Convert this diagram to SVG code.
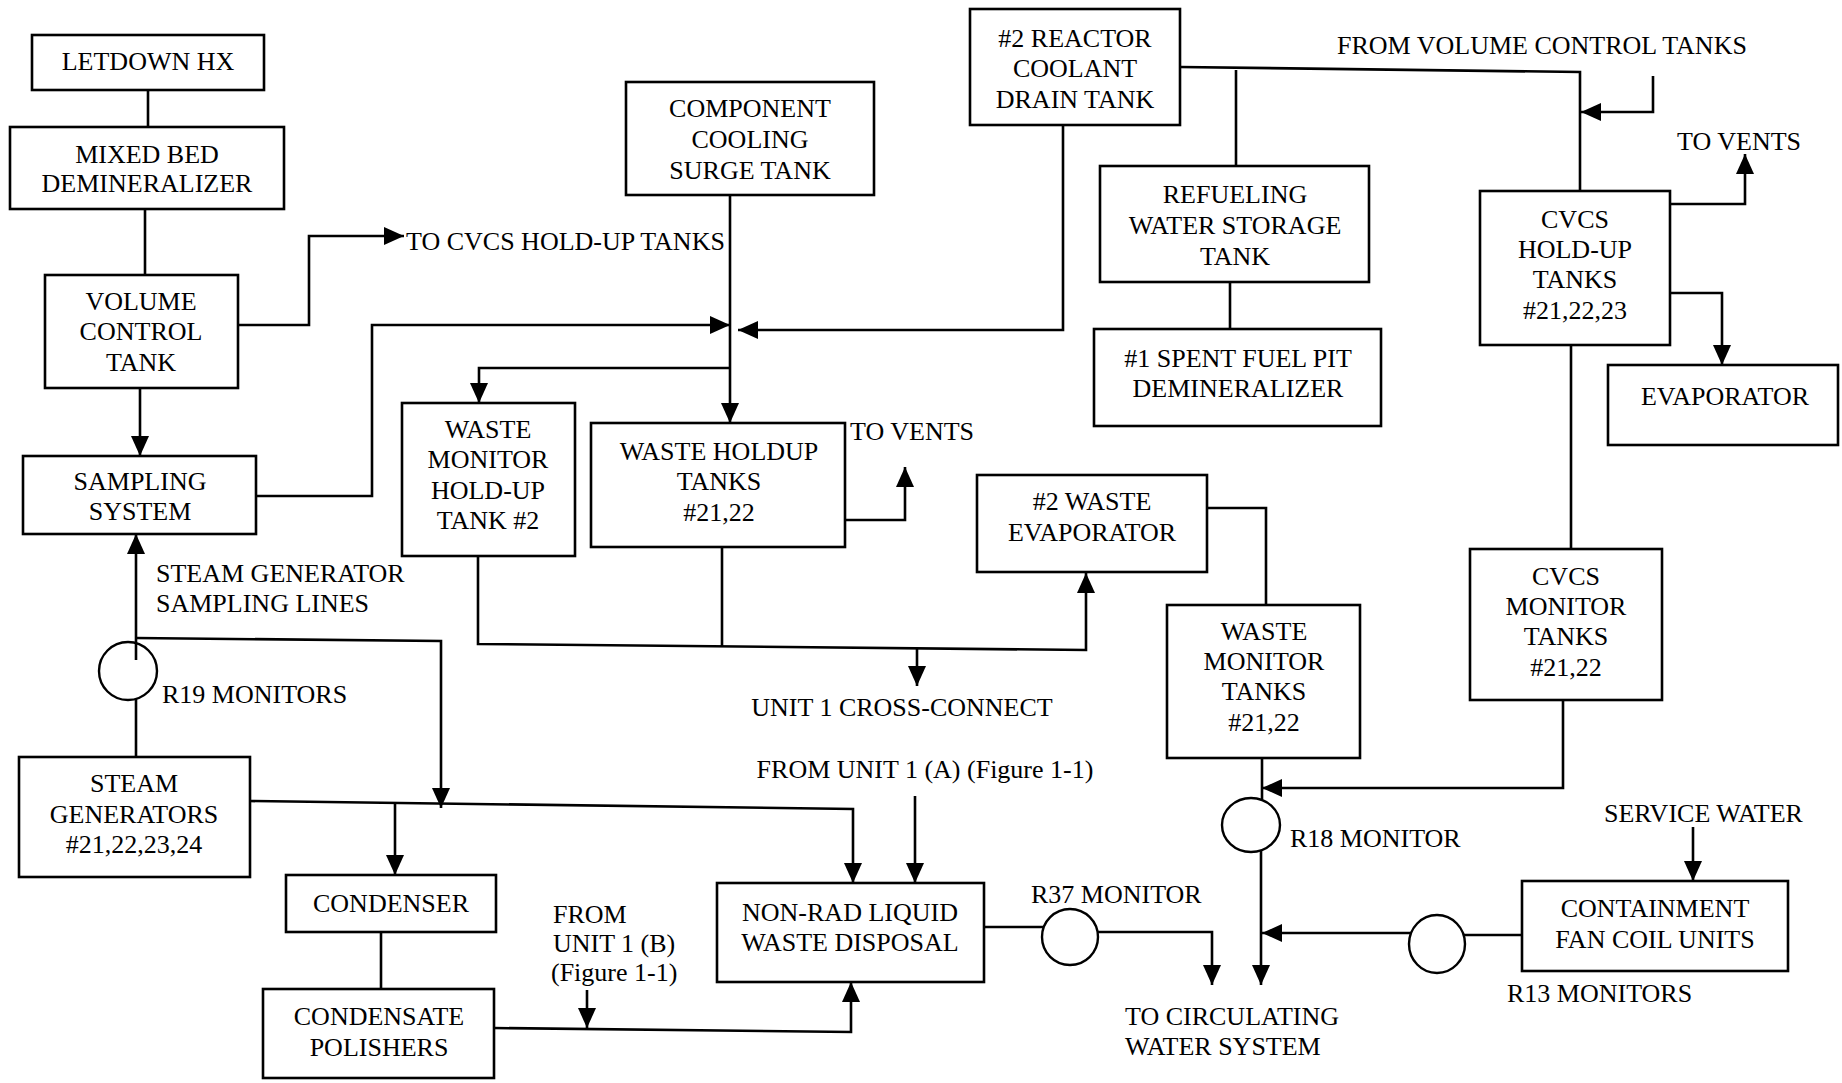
<svg xmlns="http://www.w3.org/2000/svg" width="1842" height="1083" viewBox="0 0 1842 1083">
<style>
.box{fill:none;stroke:#000;stroke-width:2.6}
.ln{fill:none;stroke:#000;stroke-width:2.6}
.ar{marker-end:url(#ah)}
.mon{fill:none;stroke:#000;stroke-width:2.4}
text{font-family:"Liberation Serif","Times New Roman",serif;font-size:26px;fill:#000}
.c{text-anchor:middle}
</style>
<defs>
<marker id="ah" markerUnits="userSpaceOnUse" markerWidth="20" markerHeight="18" viewBox="0 0 20 18" refX="20" refY="9" orient="auto">
<path d="M0,0 L20,9 L0,18 Z" fill="#000"/>
</marker>
</defs>
<rect width="1842" height="1083" fill="#fff"/>

<g id="connectors">
<path class="ln" d="M148,90 V127"/>
<path class="ln" d="M145,209 V275"/>
<path class="ln ar" d="M140,388 V456"/>
<path class="ln ar" d="M238,325 H309 V236 H404"/>
<path class="ln ar" d="M256,496 H372 V325 H730"/>
<path class="ln ar" d="M1063,125 V330 H738"/>
<path class="ln ar" d="M730,195 V423"/>
<path class="ln ar" d="M730,368 H479 V403"/>
<path class="ln ar" d="M845,520 H905 V467"/>
<path class="ln ar" d="M478,556 V644 L1086,650 V573"/>
<path class="ln" d="M722,547 V646"/>
<path class="ln ar" d="M917,648 V686"/>
<path class="ln" d="M1207,508 H1266 V605"/>
<path class="ln" d="M1180,67 L1580,72 V191"/>
<path class="ln" d="M1236,70 V166"/>
<path class="ln ar" d="M1653,76 V112 H1581"/>
<path class="ln" d="M1230,282 V329"/>
<path class="ln ar" d="M1670,204 H1745 V154"/>
<path class="ln ar" d="M1670,293 H1722 V365"/>
<path class="ln" d="M1571,345 V549"/>
<path class="ln ar" d="M1563,700 V788 H1262"/>
<path class="ln" d="M1262,758 V799"/>
<path class="ln ar" d="M1261,851 V985"/>
<path class="ln" d="M1522,935 H1464"/>
<path class="ln ar" d="M1411,933 H1262"/>
<path class="ln ar" d="M1693,827 V881"/>
<path class="ln" d="M984,927 H1044"/>
<path class="ln ar" d="M1097,932 H1212 V985"/>
<path class="ln ar" d="M136,660 V534"/>
<path class="ln" d="M136,699 V757"/>
<path class="ln ar" d="M136,638 L441,641 V808"/>
<path class="ln ar" d="M250,801 L853,809 V883"/>
<path class="ln ar" d="M395,804 V875"/>
<path class="ln" d="M381,932 V989"/>
<path class="ln ar" d="M494,1028 L851,1032 V982"/>
<path class="ln ar" d="M587,990 V1028"/>
<path class="ln ar" d="M915,796 V883"/>
</g>

<g id="monitors">
<ellipse id="r19" class="mon" cx="128" cy="671" rx="29" ry="29"/>
<ellipse id="r18" class="mon" cx="1251" cy="825" rx="29" ry="27"/>
<ellipse id="r37" class="mon" cx="1070" cy="937" rx="28" ry="28"/>
<ellipse id="r13" class="mon" cx="1437" cy="944" rx="28" ry="29"/>
</g>

<g id="letdown-hx"><rect class="box" x="32" y="35" width="232" height="55"/><text class="c" x="148" y="70">LETDOWN HX</text></g>
<g id="mixed-bed"><rect class="box" x="10" y="127" width="274" height="82"/><text class="c" x="147" y="163">MIXED BED</text><text class="c" x="147" y="192">DEMINERALIZER</text></g>
<g id="vct"><rect class="box" x="45" y="275" width="193" height="113"/><text class="c" x="141" y="310">VOLUME</text><text class="c" x="141" y="340">CONTROL</text><text class="c" x="141" y="371">TANK</text></g>
<g id="sampling"><rect class="box" x="23" y="456" width="233" height="78"/><text class="c" x="140" y="490">SAMPLING</text><text class="c" x="140" y="520">SYSTEM</text></g>
<g id="steam-gen"><rect class="box" x="19" y="757" width="231" height="120"/><text class="c" x="134" y="792">STEAM</text><text class="c" x="134" y="823">GENERATORS</text><text class="c" x="134" y="853">#21,22,23,24</text></g>
<g id="condenser"><rect class="box" x="286" y="875" width="210" height="57"/><text class="c" x="391" y="912">CONDENSER</text></g>
<g id="condensate"><rect class="box" x="263" y="989" width="231" height="89"/><text class="c" x="379" y="1025">CONDENSATE</text><text class="c" x="379" y="1056">POLISHERS</text></g>
<g id="cc-surge"><rect class="box" x="626" y="82" width="248" height="113"/><text class="c" x="750" y="117">COMPONENT</text><text class="c" x="750" y="148">COOLING</text><text class="c" x="750" y="179">SURGE TANK</text></g>
<g id="rcdt"><rect class="box" x="970" y="9" width="210" height="116"/><text class="c" x="1075" y="47">#2 REACTOR</text><text class="c" x="1075" y="77">COOLANT</text><text class="c" x="1075" y="108">DRAIN TANK</text></g>
<g id="rwst"><rect class="box" x="1100" y="166" width="269" height="116"/><text class="c" x="1235" y="203">REFUELING</text><text class="c" x="1235" y="234">WATER STORAGE</text><text class="c" x="1235" y="265">TANK</text></g>
<g id="sfp-demin"><rect class="box" x="1094" y="329" width="287" height="97"/><text class="c" x="1238" y="367">#1 SPENT FUEL PIT</text><text class="c" x="1238" y="397">DEMINERALIZER</text></g>
<g id="cvcs-hut"><rect class="box" x="1480" y="191" width="190" height="154"/><text class="c" x="1575" y="228">CVCS</text><text class="c" x="1575" y="258">HOLD-UP</text><text class="c" x="1575" y="288">TANKS</text><text class="c" x="1575" y="319">#21,22,23</text></g>
<g id="evaporator"><rect class="box" x="1608" y="365" width="230" height="80"/><text class="c" x="1725" y="405">EVAPORATOR</text></g>
<g id="wmhut"><rect class="box" x="402" y="403" width="173" height="153"/><text class="c" x="488" y="438">WASTE</text><text class="c" x="488" y="468">MONITOR</text><text class="c" x="488" y="499">HOLD-UP</text><text class="c" x="488" y="529">TANK #2</text></g>
<g id="wht"><rect class="box" x="591" y="423" width="254" height="124"/><text class="c" x="719" y="460">WASTE HOLDUP</text><text class="c" x="719" y="490">TANKS</text><text class="c" x="719" y="521">#21,22</text></g>
<g id="waste-evap"><rect class="box" x="977" y="475" width="230" height="97"/><text class="c" x="1092" y="510">#2 WASTE</text><text class="c" x="1092" y="541">EVAPORATOR</text></g>
<g id="wmt"><rect class="box" x="1167" y="605" width="193" height="153"/><text class="c" x="1264" y="640">WASTE</text><text class="c" x="1264" y="670">MONITOR</text><text class="c" x="1264" y="700">TANKS</text><text class="c" x="1264" y="731">#21,22</text></g>
<g id="cvcs-mt"><rect class="box" x="1470" y="549" width="192" height="151"/><text class="c" x="1566" y="585">CVCS</text><text class="c" x="1566" y="615">MONITOR</text><text class="c" x="1566" y="645">TANKS</text><text class="c" x="1566" y="676">#21,22</text></g>
<g id="non-rad"><rect class="box" x="717" y="883" width="267" height="99"/><text class="c" x="850" y="921">NON-RAD LIQUID</text><text class="c" x="850" y="951">WASTE DISPOSAL</text></g>
<g id="fan-coil"><rect class="box" x="1522" y="881" width="266" height="90"/><text class="c" x="1655" y="917">CONTAINMENT</text><text class="c" x="1655" y="948">FAN COIL UNITS</text></g>

<g id="labels">
<text x="406" y="250">TO CVCS HOLD-UP TANKS</text>
<text x="1337" y="54">FROM VOLUME CONTROL TANKS</text>
<text x="1677" y="150">TO VENTS</text>
<text x="850" y="440">TO VENTS</text>
<text x="156" y="582">STEAM GENERATOR</text>
<text x="156" y="612">SAMPLING LINES</text>
<text x="162" y="703">R19 MONITORS</text>
<text class="c" x="902" y="716">UNIT 1 CROSS-CONNECT</text>
<text class="c" x="925" y="778">FROM UNIT 1 (A) (Figure 1-1)</text>
<text x="553" y="923">FROM</text>
<text x="553" y="952">UNIT 1 (B)</text>
<text x="551" y="981">(Figure 1-1)</text>
<text x="1031" y="903">R37 MONITOR</text>
<text x="1290" y="847">R18 MONITOR</text>
<text x="1604" y="822">SERVICE WATER</text>
<text x="1507" y="1002">R13 MONITORS</text>
<text x="1125" y="1025">TO CIRCULATING</text>
<text x="1125" y="1055">WATER SYSTEM</text>
</g>
</svg>
